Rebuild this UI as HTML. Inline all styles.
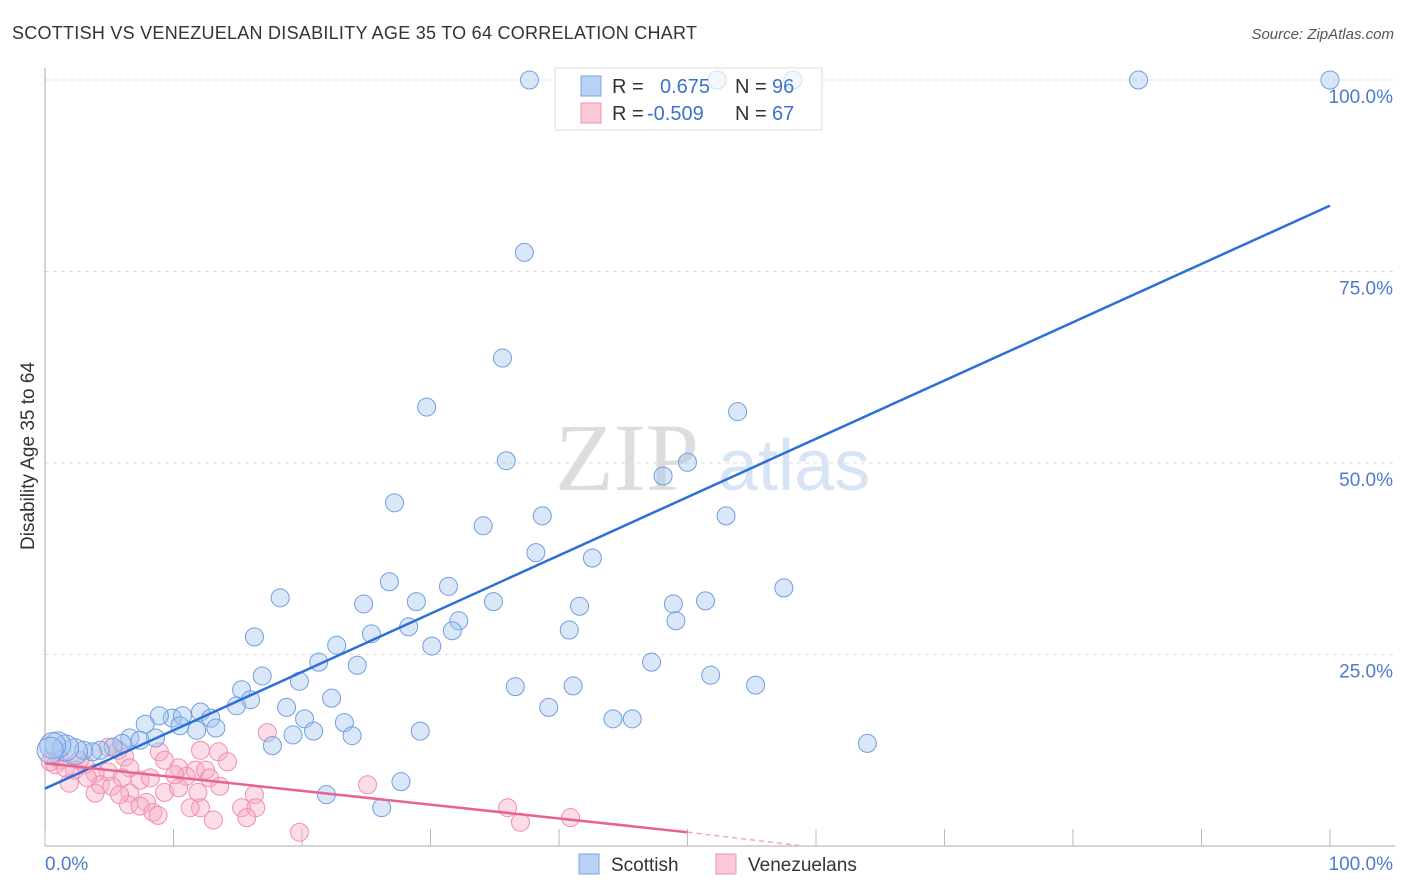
<!DOCTYPE html>
<html><head><meta charset="utf-8">
<style>
body{margin:0;background:#fff;font-family:"Liberation Sans",sans-serif;}
#wrap{position:relative;width:1406px;height:892px;overflow:hidden;}
</style></head>
<body>
<div id="wrap">
<svg id="svg" width="1406" height="892">
<text x="12" y="39" font-size="18" fill="#333" textLength="685">SCOTTISH VS VENEZUELAN DISABILITY AGE 35 TO 64 CORRELATION CHART</text>
<text x="1394" y="39" font-size="15" fill="#555" text-anchor="end" font-style="italic">Source: ZipAtlas.com</text>
<text x="34" y="456" font-size="19" fill="#333" text-anchor="middle" transform="rotate(-90 34 456)">Disability Age 35 to 64</text>
<g>
<text x="555" y="490" font-size="96" fill="#ddd" font-family="Liberation Serif, serif">ZIP</text>
<text x="718" y="490" font-size="72" fill="#d6e4f5">atlas</text>
</g>
<g id="grid"></g>
<g>
<rect x="555" y="68" width="267" height="62" fill="#fff" stroke="#ddd"/>
<rect x="581" y="76" width="20" height="20" fill="#b9d2f3" stroke="#7aa6e2"/>
<rect x="581" y="103" width="20" height="20" fill="#fbc9d8" stroke="#ee94b0"/>
<text x="612" y="93" font-size="20" fill="#333">R = </text>
<text x="660" y="93" font-size="20" fill="#3d73c9">0.675</text>
<text x="735" y="93" font-size="20" fill="#333">N = </text>
<text x="772" y="93" font-size="20" fill="#3d73c9">96</text>
<text x="612" y="120" font-size="20" fill="#333">R = </text>
<text x="647" y="120" font-size="20" fill="#3d73c9">-0.509</text>
<text x="735" y="120" font-size="20" fill="#333">N = </text>
<text x="772" y="120" font-size="20" fill="#3d73c9">67</text>
</g>
<g id="pts"></g>
<g id="lines"></g>
<g>
<rect x="579" y="854" width="20" height="20" fill="#b9d2f3" stroke="#7aa6e2"/>
<text x="611" y="871" font-size="19" fill="#333">Scottish</text>
<rect x="716" y="854" width="20" height="20" fill="#fbc9d8" stroke="#ee94b0"/>
<text x="748" y="871" font-size="19" fill="#333">Venezuelans</text>
</g>
</svg>
</div>
<script>
const yTicks=[100,75,50,25];
const yTickLabels=["100.0%","75.0%","50.0%","25.0%"];
const xTicks=[0,10,20,30,40,50,60,70,80,90,100];
const blueX=[37.7,52.3,58.2,85.1,100,37.3,35.6,29.7,53.9,35.9,50.0,48.1,27.2,34.1,38.7,53.0,38.2,42.6,26.8,18.3,31.4,24.8,28.9,34.9,41.6,48.9,51.4,57.5,32.2,31.7,25.4,28.3,49.1,40.8,16.3,22.7,30.1,21.3,24.3,47.2,16.9,19.8,51.8,36.6,41.1,55.3,15.3,22.3,16.0,14.9,18.8,12.1,39.2,9.9,10.7,8.9,7.8,12.9,20.2,23.3,44.2,45.7,20.9,19.3,11.8,10.5,13.3,29.2,23.9,17.7,64.0,8.6,6.6,7.4,6.0,5.3,4.3,3.7,3.0,2.3,1.6,1.0,0.6,0.4,27.7,21.9,26.2];
const blueY=[100,100,100,100,100,77.5,63.7,57.3,56.7,50.3,50.1,48.3,44.8,41.8,43.1,43.1,38.3,37.6,34.5,32.4,33.9,31.6,31.9,31.9,31.3,31.6,32.0,33.7,29.4,28.1,27.7,28.6,29.4,28.2,27.3,26.2,26.1,24.0,23.6,24.0,22.2,21.5,22.3,20.8,20.9,21.0,20.4,19.3,19.1,18.3,18.1,17.5,18.1,16.7,17.0,17.0,15.9,16.7,16.6,16.1,16.6,16.6,15.0,14.5,15.1,15.7,15.4,15.0,14.4,13.1,13.4,14.1,14.1,13.8,13.4,12.9,12.5,12.3,12.5,12.3,12.8,13.2,13.1,12.5,8.4,6.7,5.0];
const pinkX=[17.3,12.1,13.5,8.9,5.7,4.9,6.2,9.3,6.6,10.4,11.7,12.5,11.0,12.8,7.4,4.9,6.0,8.2,2.3,1.9,3.9,3.1,1.2,0.8,0.4,4.3,5.2,3.9,6.6,9.3,11.9,14.2,16.3,12.1,15.3,16.4,7.9,6.5,7.4,8.4,8.8,15.7,13.1,11.3,19.8,25.1,36.0,37.0,40.9,1.6,2.7,10.4,13.6,5.8,10.1,3.3];
const pinkY=[14.8,12.5,12.3,12.3,12.5,12.9,11.6,11.2,10.2,10.2,9.9,9.9,9.1,8.9,8.6,9.7,8.9,8.9,9.9,8.2,9.5,10.6,11.2,10.6,11.0,8.0,7.8,6.9,6.9,7.0,7.0,11.0,6.7,5.0,5.0,5.0,5.7,5.4,5.2,4.4,4.0,3.7,3.4,5.0,1.8,8.0,5.0,3.1,3.7,10.2,11.2,7.6,7.8,6.7,9.3,8.9];
const blueLine=[[0,7.5],[100,83.6]];
const pinkLine=[[0,10.8],[50,1.8]];
const pinkDash=[[50,1.8],[59,0]];
const NS='http://www.w3.org/2000/svg';
const sx=v=>45+v*12.85, sy=v=>846-v*7.66;
function mk(tag,attrs,parent){const e=document.createElementNS(NS,tag);for(const k in attrs)e.setAttribute(k,attrs[k]);parent.appendChild(e);return e;}
const grid=document.getElementById('grid');
yTicks.forEach((t,i)=>{
 const l=mk('line',{x1:45,x2:1395,y1:sy(t),y2:sy(t),stroke:'#ddd','stroke-dasharray':'4 4'},grid);
 
 
 const tx=mk('text',{x:1393,y:sy(t)+23,'font-size':19,fill:'#4a7bd0','text-anchor':'end'},grid);
 tx.textContent=yTickLabels[i];
 
 
});
const ax=mk('line',{x1:45,x2:1395,y1:846,y2:846,stroke:'#aaa'},grid);


const ay=mk('line',{x1:45,x2:45,y1:68,y2:846,stroke:'#aaa'},grid);


xTicks.forEach(t=>{
 const l=mk('line',{x1:sx(t),x2:sx(t),y1:829,y2:846,stroke:'#bbb'},grid);
 
 
});
const xl0=mk('text',{x:45,y:870,'font-size':19,fill:'#4a7bd0'},grid);xl0.textContent='0.0%';


const xl1=mk('text',{x:1393,y:870,'font-size':19,fill:'#4a7bd0','text-anchor':'end'},grid);xl1.textContent='100.0%';


const pts=document.getElementById('pts');
pinkX.forEach((x,i)=>{
 const c=mk('circle',{cx:sx(x),cy:sy(pinkY[i]),r:9,fill:'rgba(248,170,195,0.4)',stroke:'#ef8fae','stroke-width':1},pts);
 
 
});
blueX.forEach((x,i)=>{
 const r=(x<2.5&&blueY[i]<15)?13:9;
 const inLegend=(blueY[i]>95&&x>38&&x<60);
 const c=mk('circle',{cx:sx(x),cy:sy(blueY[i]),r:r,fill:inLegend?'rgba(160,195,240,0.12)':'rgba(160,195,240,0.4)',stroke:inLegend?'rgba(111,159,224,0.3)':'#6f9fe0','stroke-width':1},pts);
 
 
});
const lines=document.getElementById('lines');
const bl=mk('line',{x1:sx(blueLine[0][0]),y1:sy(blueLine[0][1]),x2:sx(blueLine[1][0]),y2:sy(blueLine[1][1]),stroke:'#2d6fd6','stroke-width':2.5},lines);


const pl=mk('line',{x1:sx(pinkLine[0][0]),y1:sy(pinkLine[0][1]),x2:sx(pinkLine[1][0]),y2:sy(pinkLine[1][1]),stroke:'#e8638f','stroke-width':2.5},lines);


const pd=mk('line',{x1:sx(pinkDash[0][0]),y1:sy(pinkDash[0][1]),x2:sx(pinkDash[1][0]),y2:sy(pinkDash[1][1]),stroke:'#eeaac0','stroke-width':1.5,'stroke-dasharray':'5 4'},lines);


</script>
</body></html>
